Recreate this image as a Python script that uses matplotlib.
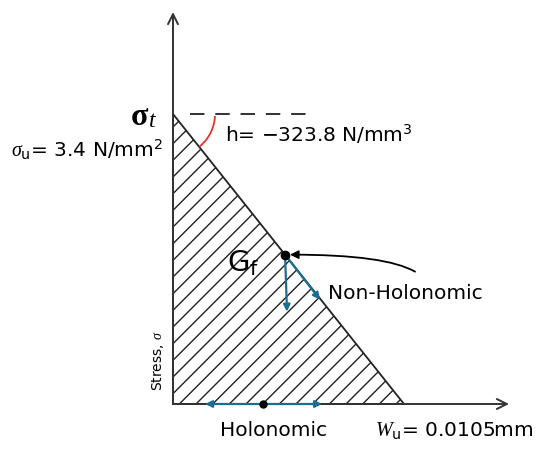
import numpy as np
import matplotlib
matplotlib.use('Agg')
import matplotlib.pyplot as plt
from matplotlib.patches import Polygon

plt.rcParams['font.family'] = ['DejaVu Sans']
plt.rcParams['mathtext.fontset'] = 'custom'
plt.rcParams['mathtext.rm'] = 'DejaVu Sans'
plt.rcParams['mathtext.it'] = 'Liberation Serif:italic'
plt.rcParams['hatch.linewidth'] = 1.0
plt.rcParams['hatch.color'] = '#222222'

# values of the bilinear (triangular) traction-separation law
sigma_u = 3.4        # N/mm2
w_u = 0.0105         # mm
h_slope = -323.8     # N/mm3
gf_frac = 0.485      # position of the Gf point along w
hol_frac = 0.39      # position of the holonomic point along w

# pixel scale of the picture (550 x 452)
sx = w_u / 231.0
sy = sigma_u / 290.0
x0_px, y0_px = 173, 405

fig = plt.figure(figsize=(5.5, 4.52), dpi=100)
ax = fig.add_axes([0, 0, 1, 1])
ax.set_xlim(-x0_px * sx, (550 - x0_px) * sx)
ax.set_ylim(-(452 - y0_px) * sy, y0_px * sy)
ax.axis('off')

axis_col = '#333333'
blue = '#1a6e94'

# hatched triangle
tri = Polygon([[0, 0], [0, sigma_u], [w_u, 0]], closed=True, facecolor='none',
              edgecolor='#222222', hatch='//', lw=1.3)
ax.add_patch(tri)

# axes arrows
ax.annotate('', xy=(0, 392 * sy), xytext=(0, 0),
            arrowprops=dict(arrowstyle='->', color=axis_col, lw=1.4, mutation_scale=18,
                            shrinkA=0, shrinkB=0))
ax.annotate('', xy=(336 * sx, 0), xytext=(0, 0),
            arrowprops=dict(arrowstyle='->', color=axis_col, lw=1.4, mutation_scale=18,
                            shrinkA=0, shrinkB=0))

# dashed horizontal at sigma_u
ax.plot([17 * sx, 135 * sx], [sigma_u, sigma_u], color='#222222', lw=1.3,
        dashes=(8, 6))

# red angle arc
ang = np.radians(np.linspace(-4, -50, 40))
r = 42
ax.plot(r * np.cos(ang) * sx, sigma_u + r * np.sin(ang) * sy, color='#e8322a', lw=1.3)

# Gf point and the non-holonomic arrows
gx = gf_frac * w_u
gy = sigma_u * (1 - gf_frac)
ax.annotate('', xy=(gx + 2 * sx, gy - 57 * sy), xytext=(gx, gy),
            arrowprops=dict(arrowstyle='-|>', color=blue, lw=1.6, mutation_scale=10,
                            shrinkA=0, shrinkB=0))
ax.annotate('', xy=(gx + 35 * sx, gy - 45 * sy), xytext=(gx, gy),
            arrowprops=dict(arrowstyle='-|>', color=blue, lw=1.6, mutation_scale=10,
                            shrinkA=0, shrinkB=0))
ax.plot(gx, gy, 'o', color='black', ms=6, zorder=5)
ax.annotate('', xy=(gx + 5 * sx, gy), xytext=(gx + 130 * sx, gy - 17 * sy),
            arrowprops=dict(arrowstyle='-|>', color='black', lw=1.3, mutation_scale=12,
                            shrinkA=0, shrinkB=0,
                            connectionstyle='angle3,angleA=150,angleB=0'))

# holonomic double arrow on the w axis
hx = hol_frac * w_u
ax.annotate('', xy=(hx - 58 * sx, 0), xytext=(hx + 59 * sx, 0),
            arrowprops=dict(arrowstyle='<|-|>', color=blue, lw=1.6, mutation_scale=10,
                            shrinkA=0, shrinkB=0))
ax.plot(hx, 0, 'o', color='black', ms=5, zorder=5)

# labels
ax.text(-34 * sx, sigma_u - 2 * sy, 'σ', fontsize=23, fontweight='bold',
        family='Liberation Serif', ha='center', va='center')
ax.text(-24 * sx, sigma_u - 6 * sy, 't', fontsize=17, style='italic',
        family='Liberation Serif', ha='left', va='center')
ax.text(-10 * sx, sigma_u - 35 * sy, r'$\sigma_{\mathrm{u}}$= 3.4 N/mm$^2$',
        fontsize=14.5, ha='right', va='center')
ax.text(52 * sx, sigma_u - 19 * sy, 'h= \u2212323.8 N/mm$^3$',
        fontsize=14.5, ha='left', va='center')
ax.text(gx - 58 * sx, gy - 8 * sy, r'G$_{\mathrm{f}}$', fontsize=21,
        ha='left', va='center')
ax.text(gx + 43 * sx, gy - 38 * sy, 'Non-Holonomic', fontsize=14.5,
        ha='left', va='center')
ax.text(hx + 10 * sx, -26 * sy, 'Holonomic', fontsize=14.5, ha='center', va='center')
ax.text(202 * sx, -26 * sy, r'$W_{\mathrm{u}}$= 0.0105mm', fontsize=14.5,
        ha='left', va='center')
ax.text(-15 * sx, 45 * sy, r'Stress, $\sigma$', fontsize=10, rotation=90,
        ha='center', va='center')

fig.savefig('out.png', dpi=100)
